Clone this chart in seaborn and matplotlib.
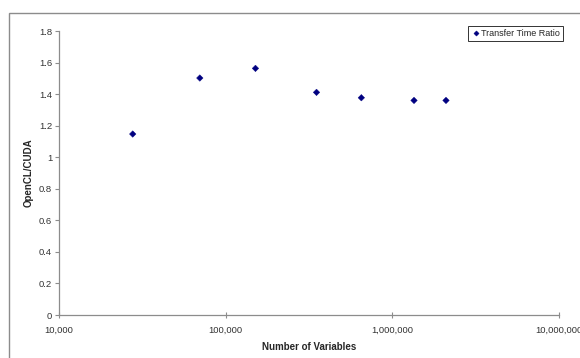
import numpy as np
import pandas as pd
import matplotlib
matplotlib.use("Agg")
import matplotlib.pyplot as plt
import matplotlib.ticker as mticker
from matplotlib.patches import Rectangle
import seaborn as sns

# values
n_variables = [27700, 70000, 151000, 351000, 652000, 1350000, 2100000]
ratio = [1.147, 1.502, 1.563, 1.411, 1.377, 1.360, 1.360]
series_name = "Transfer Time Ratio"

y_ticks = [0, 0.2, 0.4, 0.6, 0.8, 1, 1.2, 1.4, 1.6, 1.8]
x_ticks = [10000, 100000, 1000000, 10000000]

df = pd.DataFrame({"n": n_variables, "ratio": ratio, "series": series_name})

sns.set_style("white")
plt.rcParams['font.family'] = ['Liberation Sans', 'DejaVu Sans']

fig = plt.figure(figsize=(5.8, 3.58), dpi=100)
ax = fig.add_axes([0.1017, 0.1201, 0.862, 0.7933])

# outer chart border (Excel chart area)
fig.patches.append(Rectangle((9 / 580, -0.05), 1.2, 1 - 13 / 358 + 0.05,
                             transform=fig.transFigure, fill=False,
                             edgecolor="#8c8c8c", linewidth=1.0))

sns.scatterplot(data=df, x="n", y="ratio", hue="series", palette=["#000080"],
                marker="D", s=11, edgecolor="#000080", linewidth=0.3, ax=ax)

ax.set_xscale("log")
ax.set_xlim(10000, 10000000)
ax.set_ylim(0, 1.8)
ax.set_xticks(x_ticks)
ax.xaxis.set_minor_locator(mticker.NullLocator())
ax.xaxis.set_major_formatter(mticker.FuncFormatter(lambda v, p: f"{int(round(v)):,}"))
ax.set_yticks(y_ticks)
ax.yaxis.set_major_formatter(mticker.FuncFormatter(lambda v, p: f"{v:g}"))

for side in ["top", "right"]:
    ax.spines[side].set_visible(False)
for side in ["left", "bottom"]:
    ax.spines[side].set_color("#8c8c8c")
    ax.spines[side].set_linewidth(0.9)

ax.tick_params(axis="y", direction="out", length=3, width=0.8, color="#8c8c8c",
               labelsize=6.8, labelcolor="#333333", pad=2, left=True)
ax.tick_params(axis="x", direction="inout", length=4, width=0.8, color="#8c8c8c",
               labelsize=6.8, labelcolor="#333333", pad=6, bottom=True)

ax.set_xlabel("Number of Variables", fontsize=7, fontweight="bold", labelpad=5)
ax.set_ylabel("OpenCL/CUDA", fontsize=7, fontweight="bold", labelpad=4)

leg = ax.legend(loc="upper right", bbox_to_anchor=(0.971, 0.927),
                bbox_transform=fig.transFigure, fontsize=6.5, frameon=True,
                fancybox=False, edgecolor="black", borderpad=0.35,
                handletextpad=0.1, handlelength=1.0, borderaxespad=0,
                markerscale=0.8)
leg.get_frame().set_linewidth(0.7)

fig.savefig("out.png", dpi=100)
